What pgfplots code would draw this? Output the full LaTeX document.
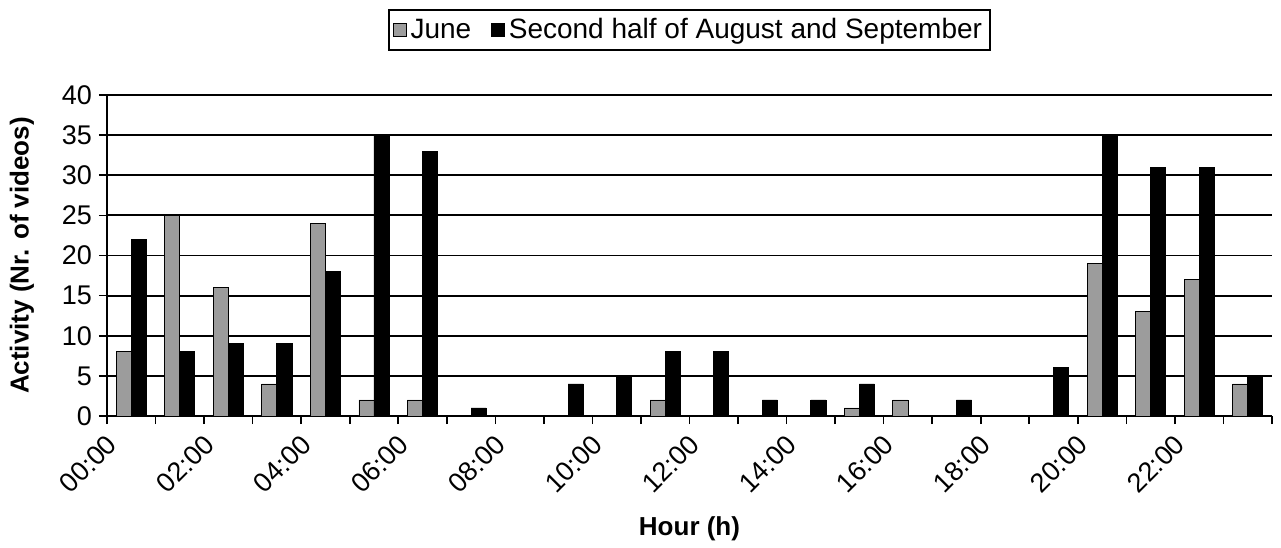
\documentclass[border=0pt]{standalone}
\usepackage{pgfplots}
\pgfplotsset{compat=1.18}
\usepackage{pgfplotstable}
\usepackage{fontspec}
\setmainfont{Liberation Sans}
\definecolor{juneGray}{HTML}{9C9C9C}

% hour-slot centre, June, second half of August and September
\pgfplotstableread{
x    june aug
0.5  8    22
1.5  25   8
2.5  16   9
3.5  4    9
4.5  24   18
5.5  2    35
6.5  2    33
7.5  0    1
8.5  0    0
9.5  0    4
10.5 0    5
11.5 2    8
12.5 0    8
13.5 0    2
14.5 0    2
15.5 1    4
16.5 2    0
17.5 0    2
18.5 0    0
19.5 0    6
20.5 19   35
21.5 13   31
22.5 17   31
23.5 4    5
}\activity

\begin{document}
\begin{tikzpicture}
\begin{axis}[
  scale only axis, width=582.5pt, height=160.5pt,
  xmin=0, xmax=24, ymin=0, ymax=40,
  axis x line*=bottom, axis y line*=left,
  axis line style={black, line width=0.9pt},
  ybar=0pt, bar width=0.31,
  ytick={0,5,...,40},
  ymajorgrids, grid style={black, line width=0.9pt},
  xtick={0,2,...,22}, minor xtick={1,3,...,23,24},
  xticklabels={00:00,02:00,04:00,06:00,08:00,10:00,12:00,14:00,16:00,18:00,20:00,22:00},
  tick align=outside, tick style={black, line width=0.8pt},
  major tick length=4pt, minor tick length=4pt,
  /pgf/number format/assume math mode=true,
  tick label style={font=\fontsize{13.5}{15}\selectfont},
  xticklabel style={xshift=5pt, yshift=-5.5pt, rotate=45, anchor=east},
  xlabel={\textbf{Hour (h)}},
  ylabel={\textbf{Activity (Nr. of videos)}},
  label style={font=\fontsize{13}{15}\selectfont},
  xlabel style={at={(axis description cs:0.5,-0.35)}, anchor=center},
  ylabel style={at={(axis description cs:-0.073,0.5)}, anchor=center},
  legend columns=2,
  legend style={at={(0.5,1.2025)}, anchor=center, draw=black, line width=0.9pt,
    font=\fontsize{14}{16}\selectfont, inner xsep=2pt, inner ysep=2pt,
    /tikz/every even column/.append style={column sep=8pt}},
  legend image code/.code={\draw[#1, line width=0.4pt] (0pt,-3.2pt) rectangle (6.4pt,3.2pt);},
]
\addplot[fill=juneGray, draw=black, line width=0.4pt] table[x=x, y=june] {\activity};
\addplot[fill=black, draw=black, line width=0.4pt] table[x=x, y=aug] {\activity};
\legend{June, Second half of August and September}
\end{axis}
\path (current axis.south west) ++(-53.5pt,-63.5pt) rectangle ++(640.5pt,271.5pt);
\end{tikzpicture}
\end{document}
